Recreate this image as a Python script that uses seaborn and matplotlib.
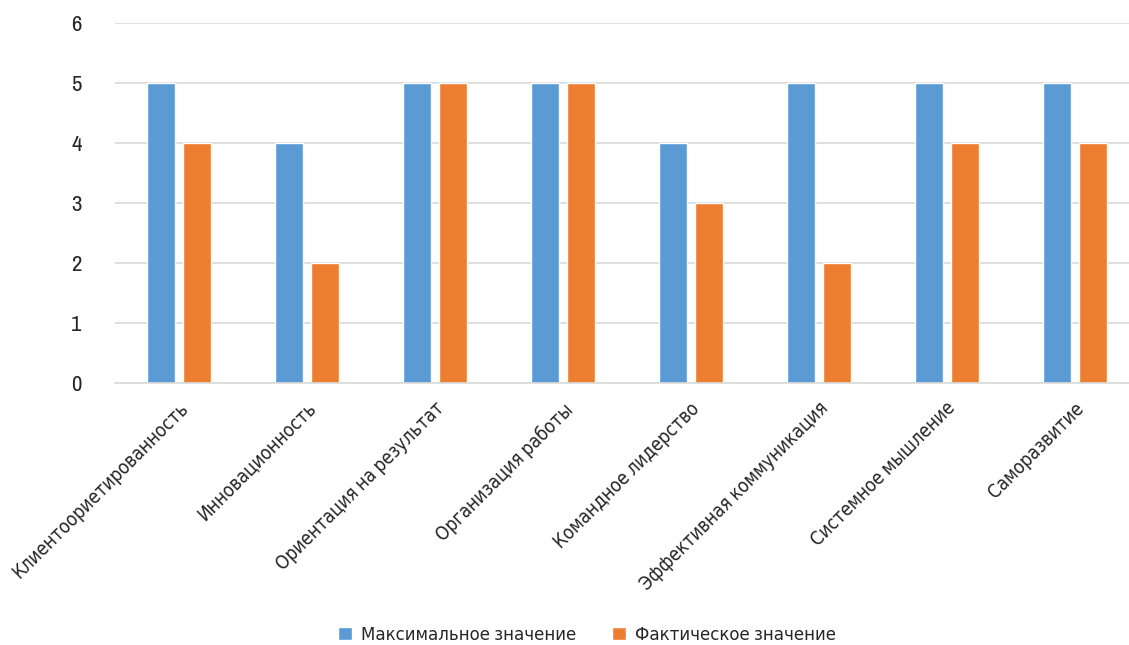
import matplotlib
matplotlib.use("Agg")
import matplotlib.pyplot as plt
from matplotlib import font_manager
import seaborn as sns
import pandas as pd

categories = [
    "Клиентоориетированность",
    "Инновационность",
    "Ориентация на результат",
    "Организация работы",
    "Командное лидерство",
    "Эффективная коммуникация",
    "Системное мышление",
    "Саморазвитие",
]
max_values = [5, 4, 5, 5, 4, 5, 5, 5]
actual_values = [4, 2, 5, 5, 3, 2, 4, 4]
series_names = ["Максимальное значение", "Фактическое значение"]
y_ticks = [0, 1, 2, 3, 4, 5, 6]

df = pd.DataFrame({
    "category": categories * 2,
    "value": max_values + actual_values,
    "series": [series_names[0]] * len(categories) + [series_names[1]] * len(categories),
})

sns.set_theme(style="white")

# look for a narrow face with a regular (non-bold) weight
narrow = None
for f in font_manager.fontManager.ttflist:
    name = f.name
    if any(k in name for k in ("Narrow", "Condensed")) and f.weight in (400, "normal", "regular", 300, "light"):
        narrow = name
        break
family = narrow if narrow else "DejaVu Sans"
plt.rcParams["font.family"] = [family, "DejaVu Sans"]
plt.rcParams["font.weight"] = "normal"
stretch = "condensed"
text_color = "#262626"

fig = plt.figure(figsize=(11.29, 6.45), dpi=100)
ax = fig.add_axes([115 / 1129, (645 - 383) / 645, 1024 / 1129, 360 / 645])

sns.barplot(
    data=df, x="category", y="value", hue="series",
    palette=["#5B9BD5", "#ED7D31"], width=0.5625, gap=0.22,
    ax=ax, legend=True, errorbar=None, saturation=1,
)

ax.set_ylim(0, 6)
ax.set_yticks(y_ticks)
ax.set_xlim(-0.5, len(categories) - 0.5)
ax.yaxis.grid(True, color="#D9D9D9", linewidth=1.2)
ax.set_axisbelow(True)
for side in ["top", "right", "left"]:
    ax.spines[side].set_visible(False)
ax.spines["bottom"].set_color("#D9D9D9")
ax.spines["bottom"].set_linewidth(1.2)
ax.tick_params(axis="both", length=0)
ax.tick_params(axis="y", pad=24)
ax.set_xlabel("")
ax.set_ylabel("")

for lab in ax.get_yticklabels():
    lab.set_fontsize(16.5)
    lab.set_color(text_color)
    lab.set_fontstretch(stretch)
    lab.set_fontweight("normal")
ax.set_xticks(range(len(categories)))
ax.set_xticklabels(categories, rotation=45, ha="right", rotation_mode="anchor",
                   fontsize=13.5, color=text_color, fontstretch=stretch, fontweight="normal")
ax.tick_params(axis="x", pad=12)

ax.legend_.remove()
handles, labels = ax.get_legend_handles_labels()
leg = fig.legend(handles, labels, loc="center", bbox_to_anchor=(0.52, 0.016),
                 ncol=2, frameon=False, handlelength=0.75, handleheight=0.75,
                 columnspacing=1.9, handletextpad=0.5,
                 prop={"size": 13.3, "stretch": stretch, "weight": "normal"})
for t in leg.get_texts():
    t.set_color(text_color)

fig.savefig("out.png", dpi=100)
